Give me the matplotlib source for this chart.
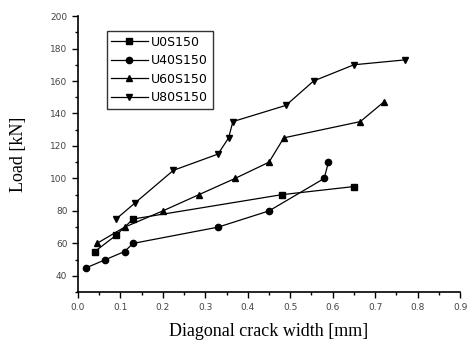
import matplotlib
matplotlib.use("Agg")
import matplotlib.pyplot as plt
from matplotlib.ticker import MultipleLocator

# crack width [mm] / load [kN]
u0_x = [0.04, 0.09, 0.13, 0.48, 0.65]
u0_y = [55, 65, 75, 90, 95]
u40_x = [0.02, 0.065, 0.11, 0.13, 0.33, 0.45, 0.58, 0.59]
u40_y = [45, 50, 55, 60, 70, 80, 100, 110]
u60_x = [0.045, 0.11, 0.2, 0.285, 0.37, 0.45, 0.485, 0.665, 0.72]
u60_y = [60, 70, 80, 90, 100, 110, 125, 135, 147]
u80_x = [0.09, 0.135, 0.225, 0.33, 0.355, 0.365, 0.49, 0.555, 0.65, 0.77]
u80_y = [75, 85, 105, 115, 125, 135, 145, 160, 170, 173]

series = [
    ("U0S150", u0_x, u0_y, "s"),
    ("U40S150", u40_x, u40_y, "o"),
    ("U60S150", u60_x, u60_y, "^"),
    ("U80S150", u80_x, u80_y, "v"),
]

fig = plt.figure(figsize=(4.69, 3.49), dpi=100)
ax = fig.add_axes([0.166, 0.163, 0.815, 0.791])

for name, xs, ys, m in series:
    ax.plot(xs, ys, color="black", linewidth=0.9, marker=m, markersize=4.5, label=name)

ax.set_xlim(0.0, 0.9)
ax.set_ylim(30, 200)
ax.xaxis.set_major_locator(MultipleLocator(0.1))
ax.xaxis.set_minor_locator(MultipleLocator(0.05))
ax.yaxis.set_minor_locator(MultipleLocator(10))
ax.set_yticks(range(40, 201, 20))
ax.xaxis.set_major_formatter(matplotlib.ticker.FormatStrFormatter("%.1f"))

for s in ["top", "right"]:
    ax.spines[s].set_visible(False)
for s in ["left", "bottom"]:
    ax.spines[s].set_linewidth(1.2)

ax.tick_params(which="major", direction="out", length=4, width=1, labelsize=6.5,
               labelcolor="#444444")
ax.tick_params(which="minor", direction="out", length=2.5, width=1)

serif = ["Liberation Serif", "DejaVu Serif"]
ax.set_xlabel("Diagonal crack width [mm]", family=serif, fontsize=13, labelpad=8)
ax.set_ylabel("Load [kN]", family=serif, fontsize=13, labelpad=17)

leg = ax.legend(loc="upper left", bbox_to_anchor=(0.076, 0.945), frameon=True,
                fancybox=False, edgecolor="black", fontsize=9, handlelength=2.9,
                borderpad=0.35, labelspacing=0.45, handletextpad=0.3,
                borderaxespad=0)
leg.get_frame().set_linewidth(1.0)

fig.savefig("out.png", dpi=100)
